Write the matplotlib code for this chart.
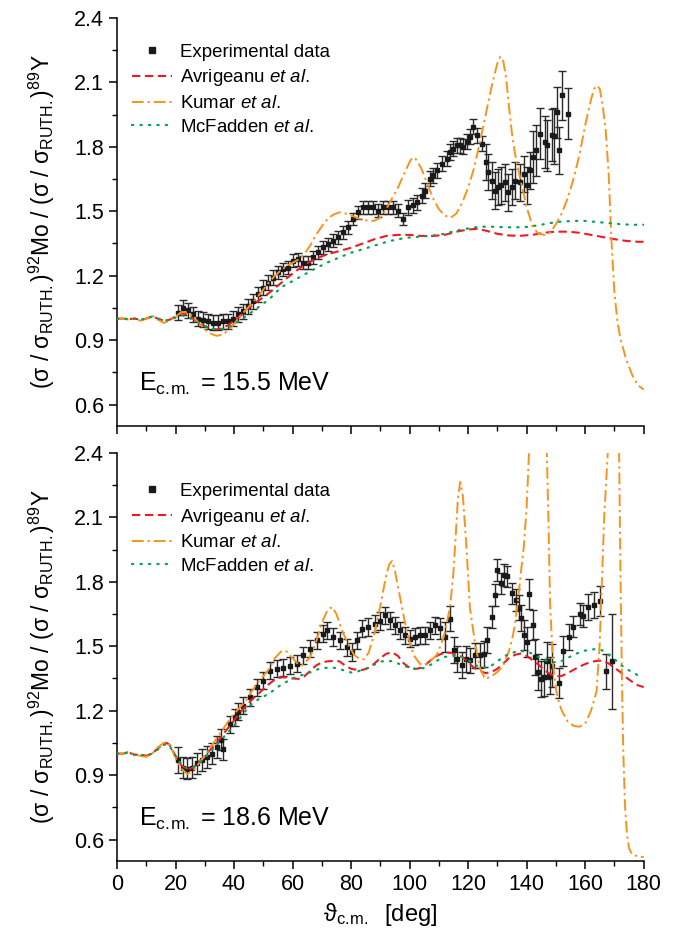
import numpy as np
import matplotlib
matplotlib.use('Agg')
import matplotlib.pyplot as plt
from matplotlib.ticker import MultipleLocator
from matplotlib.lines import Line2D

plt.rcParams['font.family'] = ['Liberation Sans', 'DejaVu Sans']
plt.rcParams['mathtext.fontset'] = 'custom'
plt.rcParams['mathtext.rm'] = 'Liberation Sans'
plt.rcParams['mathtext.it'] = 'Liberation Sans:italic'
plt.rcParams['mathtext.bf'] = 'Liberation Sans:bold'

# ---------------- E = 15.5 MeV (top) ----------------
top_exp_x = [21.0, 22.7, 24.4, 26.1, 27.8, 29.5, 31.2, 32.9, 34.6, 36.3, 38.1, 39.8, 41.5, 43.2, 44.9,
             46.6, 48.3, 50.0, 51.7, 53.4, 55.1, 56.8, 58.6, 60.3, 62.0, 63.7, 65.4, 67.1, 68.8, 70.5,
             72.2, 73.9, 75.6, 77.4, 79.1, 80.8, 82.5, 84.2, 85.9, 87.6, 89.3, 91.0, 92.7, 94.4, 96.1,
             97.8, 99.5, 101.2, 102.4, 104.1, 105.3, 107.0, 108.1, 109.3, 111.0, 112.7, 113.8, 114.9,
             116.1, 117.2, 118.3, 119.5, 120.6, 121.7, 122.9, 124.6, 126.1, 126.9, 128.0, 129.2, 130.3,
             131.4, 132.6, 133.7, 134.9, 136.0, 137.7, 139.1, 140.0, 141.1, 142.3, 143.2, 144.5, 146.1,
             146.8, 148.5, 149.5, 150.3, 151.1, 152.0, 154.0]
top_exp_y = [1.028, 1.05, 1.04, 1.02, 1.0, 0.995, 0.987, 0.98, 0.98, 0.987, 0.987, 1.0, 1.02, 1.035, 1.058,
             1.082, 1.113, 1.144, 1.168, 1.191, 1.215, 1.23, 1.238, 1.269, 1.277, 1.261, 1.261, 1.285, 1.308, 1.332,
             1.347, 1.363, 1.378, 1.402, 1.425, 1.464, 1.495, 1.519, 1.519, 1.519, 1.503, 1.519, 1.519, 1.519, 1.503,
             1.464, 1.519, 1.527, 1.542, 1.573, 1.596, 1.651, 1.667, 1.69, 1.721, 1.745, 1.776, 1.792,
             1.807, 1.807, 1.8, 1.823, 1.846, 1.893, 1.854, 1.815, 1.729, 1.682, 1.643, 1.596, 1.612,
             1.62, 1.635, 1.588, 1.612, 1.643, 1.635, 1.674, 1.62, 1.69, 1.752, 1.784, 1.862, 1.823,
             1.807, 1.854, 1.85, 1.96, 1.783, 2.04, 1.955]
top_exp_err = [0.035] * 20 + [0.03] * 26 + [0.035] * 20 + [0.085] * 14 + [0.12] * 6 + [0.13, 0.12, 0.11, 0.115, 0.12]

top_kumar_x = [0, 2, 4, 6, 8, 10, 12, 14, 16, 18, 20, 22, 24, 26, 28, 30, 32, 34, 36, 38, 40, 42, 44, 46, 48,
               50, 52, 54, 56, 58, 60, 62, 64, 66, 68, 70, 72, 74, 76, 78, 80, 82, 84, 86, 88, 90, 92, 94, 96,
               98, 100, 101, 102, 104, 106, 108, 110, 112, 114, 116, 118, 120, 122, 124, 126, 128, 130, 131,
               132, 133, 134, 135, 136, 138, 140, 142, 144, 146, 148, 150, 152, 154, 156, 158, 160, 162, 163,
               164, 165, 166, 167, 168, 169, 170, 171, 172, 174, 176, 178, 180]
top_kumar_y = [1.0, 1.0, 0.995, 1.0, 0.99, 1.0, 1.015, 0.995, 0.98, 0.99, 1.01, 1.03, 1.03, 1.01, 0.98, 0.95,
               0.93, 0.92, 0.925, 0.945, 0.975, 1.01, 1.04, 1.07, 1.10, 1.135, 1.17, 1.2, 1.225, 1.245, 1.26,
               1.275, 1.3, 1.34, 1.39, 1.43, 1.465, 1.485, 1.495, 1.49, 1.48, 1.47, 1.46, 1.456, 1.456, 1.47,
               1.51, 1.56, 1.61, 1.67, 1.73, 1.75, 1.745, 1.70, 1.63, 1.56, 1.51, 1.48, 1.47, 1.49, 1.54,
               1.61, 1.70, 1.82, 1.95, 2.08, 2.19, 2.22, 2.20, 2.12, 1.98, 1.86, 1.77, 1.64, 1.52, 1.43,
               1.395, 1.39, 1.40, 1.44, 1.49, 1.56, 1.65, 1.76, 1.90, 2.02, 2.07, 2.085, 2.07, 1.99, 1.88,
               1.68, 1.36, 1.12, 0.99, 0.91, 0.81, 0.74, 0.69, 0.67]

top_avrig_x = [0, 2, 4, 6, 8, 10, 12, 14, 16, 18, 20, 22, 24, 26, 28, 30, 32, 34, 36, 38, 40, 42, 44, 48, 52,
               56, 60, 64, 68, 72, 76, 80, 84, 88, 92, 96, 100, 104, 108, 112, 116, 120, 123, 126, 130, 134,
               138, 142, 146, 150, 154, 158, 162, 166, 170, 174, 178, 180]
top_avrig_y = [1.0, 1.0, 0.998, 1.0, 0.995, 1.0, 1.01, 1.0, 0.99, 0.995, 1.01, 1.025, 1.02, 1.0, 0.98, 0.965,
               0.955, 0.95, 0.955, 0.97, 0.99, 1.01, 1.04, 1.08, 1.12, 1.165, 1.21, 1.25, 1.28, 1.30, 1.315,
               1.33, 1.35, 1.37, 1.385, 1.39, 1.39, 1.385, 1.385, 1.39, 1.405, 1.415, 1.418, 1.41, 1.395,
               1.387, 1.386, 1.39, 1.40, 1.405, 1.405, 1.40, 1.39, 1.38, 1.37, 1.362, 1.358, 1.358]

top_mcf_x = [0, 2, 4, 6, 8, 10, 12, 14, 16, 18, 20, 22, 24, 26, 28, 30, 32, 34, 36, 38, 40, 44, 48, 52, 56,
             60, 64, 68, 72, 76, 80, 84, 88, 92, 96, 100, 104, 108, 112, 116, 120, 124, 128, 132, 136, 140,
             144, 148, 152, 156, 160, 164, 168, 172, 176, 180]
top_mcf_y = [1.0, 1.0, 0.998, 1.0, 0.995, 1.0, 1.01, 1.0, 0.99, 0.995, 1.005, 1.015, 1.01, 0.995, 0.98, 0.965,
             0.955, 0.95, 0.952, 0.96, 0.975, 1.01, 1.05, 1.09, 1.145, 1.175, 1.205, 1.235, 1.262, 1.285,
             1.307, 1.323, 1.34, 1.357, 1.37, 1.378, 1.382, 1.387, 1.395, 1.41, 1.42, 1.428, 1.428, 1.426,
             1.425, 1.427, 1.435, 1.445, 1.452, 1.455, 1.455, 1.45, 1.445, 1.44, 1.437, 1.437]

# ---------------- E = 18.6 MeV (bottom) ----------------
bot_exp_x = [21.0, 22.5, 23.8, 25.5, 27.2, 29.0, 30.8, 32.5, 34.2, 35.5, 36.3, 38.6, 40.3, 41.5, 43.2, 45.5,
             47.7, 50.0, 52.3, 54.6, 56.8, 59.1, 61.4, 63.7, 65.9, 68.2, 70.5, 71.6, 73.9, 76.2, 78.5, 80.2,
             81.9, 83.6, 85.9, 88.2, 89.9, 91.6, 93.3, 95.0, 96.7, 98.5, 100.1, 101.9, 103.6, 105.3, 107.0,
             108.7, 110.4, 112.1, 113.9, 115.0, 116.2, 117.9, 119.4, 120.7, 122.4, 124.1, 125.3, 126.4,
             128.1, 129.2, 129.8, 131.1, 132.3, 133.4, 134.9, 136.2, 137.4, 138.1, 139.1, 140.0, 140.9,
             142.0, 142.9, 144.0, 144.8, 146.0, 147.0, 147.9, 148.7, 151.2, 152.5, 154.5, 156.0, 158.1,
             159.1, 161.1, 163.0, 165.0, 167.0, 169.1]
bot_exp_y = [0.97, 0.935, 0.93, 0.935, 0.955, 0.97, 0.985, 1.0, 1.03, 1.065, 1.02, 1.137, 1.17, 1.195, 1.223,
             1.262, 1.309, 1.34, 1.387, 1.395, 1.40, 1.41, 1.418, 1.457, 1.488, 1.527, 1.558, 1.574, 1.543,
             1.527, 1.496, 1.473, 1.527, 1.582, 1.59, 1.605, 1.618, 1.645, 1.621, 1.598, 1.575, 1.551,
             1.536, 1.544, 1.551, 1.551, 1.575, 1.598, 1.583, 1.544, 1.629, 1.481, 1.442, 1.411, 1.442,
             1.434, 1.457, 1.457, 1.465, 1.528, 1.637, 1.738, 1.855, 1.793, 1.832, 1.825, 1.746, 1.715,
             1.68, 1.63, 1.551, 1.52, 1.745, 1.598, 1.45, 1.38, 1.347, 1.355, 1.433, 1.363, 1.41, 1.33,
             1.48, 1.543, 1.592, 1.651, 1.64, 1.682, 1.693, 1.71, 1.383, 1.43]
bot_exp_err = [0.06] + [0.05] * 10 + [0.04] * 37 + [0.05, 0.07] + [0.06] * 10 + [0.05] * 8 + [0.06, 0.06, 0.07,
               0.07, 0.07, 0.07] + [0.085] * 6 + [0.1, 0.07, 0.07, 0.06, 0.05, 0.05, 0.05, 0.06, 0.06, 0.07,
               0.08, 0.22]

bot_kumar_x = [0, 2, 4, 6, 8, 10, 12, 14, 16, 17, 18, 20, 22, 24, 26, 28, 30, 32, 34, 36, 38, 40, 42, 44,
               46, 48, 50, 52, 54, 56, 57, 58, 60, 62, 63, 64, 66, 68, 70, 72, 73.5, 75, 77, 79, 81, 83, 84.5,
               86, 88, 90, 92, 93, 94, 95, 96.7, 99, 101.3, 103.6, 105.3, 107, 109.3, 111.6, 113.8, 114.9,
               115.7, 116.5, 117.3, 118.2, 119.3, 120.6, 122.3, 124, 125.8, 128, 130, 132, 134, 135, 136,
               137, 138, 139, 140, 140.8, 141.5, 142.5, 143.8, 145, 146, 146.9, 147.5, 148, 149, 150, 151,
               152, 154, 156, 158, 160, 162, 163.9, 165, 165.6, 166.5, 167.7, 168.5, 169.6, 170.6, 171.6,
               172.0, 172.5, 173.0, 173.6, 174.3, 175.0, 176, 178, 180]
bot_kumar_y = [1.0, 1.0, 1.01, 0.995, 0.99, 0.985, 1.0, 1.03, 1.05, 1.055, 1.04, 0.98, 0.93, 0.905, 0.92,
               0.955, 0.99, 1.03, 1.07, 1.11, 1.15, 1.185, 1.215, 1.245, 1.29, 1.33, 1.36, 1.395, 1.445,
               1.475, 1.48, 1.475, 1.445, 1.415, 1.41, 1.42, 1.45, 1.52, 1.61, 1.67, 1.683, 1.65, 1.57,
               1.51, 1.46, 1.44, 1.44, 1.47, 1.56, 1.69, 1.83, 1.88, 1.897, 1.85, 1.73, 1.57, 1.46, 1.417,
               1.415, 1.43, 1.46, 1.54, 1.68, 1.83, 2.0, 2.19, 2.265, 2.2, 1.99, 1.68, 1.52, 1.40, 1.347,
               1.36, 1.38, 1.41, 1.48, 1.53, 1.60, 1.71, 1.84, 1.96, 2.15, 2.4, 2.75, 3.05, 3.2, 3.05,
               2.75, 2.4, 2.05, 1.70, 1.42, 1.30, 1.24, 1.20, 1.15, 1.13, 1.125, 1.14, 1.20, 1.29, 1.52,
               1.76, 2.10, 2.40, 2.75, 2.95, 2.75, 2.40, 1.90, 1.40, 1.02, 0.76, 0.62, 0.56, 0.53, 0.522,
               0.518]

bot_avrig_x = [0, 2, 4, 6, 8, 10, 12, 14, 16, 17, 18, 20, 22, 24, 26, 28, 30, 32, 34, 36, 38, 40, 42, 44,
               46, 48, 50, 52, 54, 56, 58, 60, 62, 64, 66, 68, 70, 72, 74, 76, 78, 80, 82, 84, 86, 88, 90,
               92, 94, 96, 98, 100, 102, 104, 106, 108, 110, 112, 114, 116, 118, 120, 122, 124, 126, 128,
               130, 132, 134, 136, 138, 140, 142, 144, 146, 148, 150, 152, 154, 156, 158, 160, 162, 164,
               166, 168, 170, 172, 174, 176, 178, 180]
bot_avrig_y = [1.0, 1.0, 1.005, 0.995, 0.995, 0.99, 1.0, 1.025, 1.045, 1.05, 1.04, 0.99, 0.945, 0.925,
               0.935, 0.96, 0.99, 1.02, 1.05, 1.085, 1.12, 1.155, 1.19, 1.22, 1.25, 1.275, 1.30, 1.325,
               1.345, 1.355, 1.355, 1.35, 1.348, 1.36, 1.385, 1.41, 1.425, 1.43, 1.432, 1.43, 1.41, 1.395,
               1.39, 1.39, 1.40, 1.42, 1.445, 1.465, 1.472, 1.455, 1.42, 1.40, 1.394, 1.40, 1.42, 1.445,
               1.46, 1.47, 1.47, 1.46, 1.45, 1.425, 1.40, 1.385, 1.375, 1.38, 1.395, 1.42, 1.445, 1.46,
               1.466, 1.455, 1.435, 1.415, 1.39, 1.37, 1.36, 1.362, 1.375, 1.39, 1.405, 1.417, 1.427,
               1.432, 1.433, 1.42, 1.40, 1.38, 1.355, 1.335, 1.318, 1.31]

bot_mcf_x = bot_avrig_x
bot_mcf_y = [1.0, 1.0, 1.005, 0.995, 0.995, 0.99, 1.0, 1.02, 1.04, 1.045, 1.035, 0.99, 0.95, 0.93, 0.935,
             0.955, 0.98, 1.01, 1.04, 1.07, 1.10, 1.13, 1.165, 1.20, 1.23, 1.25, 1.265, 1.28, 1.30, 1.32,
             1.335, 1.35, 1.36, 1.37, 1.378, 1.39, 1.398, 1.40, 1.40, 1.395, 1.385, 1.378, 1.382, 1.39,
             1.40, 1.415, 1.428, 1.433, 1.43, 1.42, 1.41, 1.40, 1.395, 1.395, 1.405, 1.42, 1.438, 1.45,
             1.455, 1.456, 1.45, 1.435, 1.415, 1.403, 1.40, 1.41, 1.43, 1.45, 1.465, 1.473, 1.478, 1.476,
             1.465, 1.45, 1.437, 1.428, 1.425, 1.432, 1.445, 1.46, 1.471, 1.48, 1.485, 1.487, 1.48, 1.46,
             1.44, 1.415, 1.395, 1.38, 1.365, 1.36]

energies = ['15.5', '18.6']

red = '#ED1C24'
orange = '#F7941D'
green = '#00A651'

fig = plt.figure(figsize=(6.85, 9.35), dpi=100)
ax1 = fig.add_axes([117 / 685, 1 - 426 / 935, 526.7 / 685, 408 / 935])
ax2 = fig.add_axes([117 / 685, 1 - 861 / 935, 526.7 / 685, 408 / 935])

panels = [
    (ax1, top_exp_x, top_exp_y, top_exp_err, top_avrig_x, top_avrig_y, top_kumar_x, top_kumar_y,
     top_mcf_x, top_mcf_y, energies[0], 0.937),
    (ax2, bot_exp_x, bot_exp_y, bot_exp_err, bot_avrig_x, bot_avrig_y, bot_kumar_x, bot_kumar_y,
     bot_mcf_x, bot_mcf_y, energies[1], 0.927),
]

sub = '$_{\\mathrm{c.\\!m.}}$'
ylab = '(σ / σ$_{\\mathrm{RUTH.}}$)$^{92}$Mo / (σ / σ$_{\\mathrm{RUTH.}}$)$^{89}$Y'

for ax, ex, ey, ee, ax_, ay_, kx, ky, mx, my, en, legy in panels:
    ax.errorbar(ex, ey, yerr=ee, fmt='s', ms=3.2, color='#1a1a1a', ecolor='#2a2a2a',
                elinewidth=1.0, capsize=3, capthick=1.0, zorder=2)
    ax.plot(ax_, ay_, color=red, lw=1.5, dashes=(4, 2.2), zorder=3)
    ax.plot(kx, ky, color=orange, lw=1.4, dashes=(6, 2, 1.2, 2), zorder=3)
    ax.plot(mx, my, color=green, lw=1.6, dashes=(0.6, 3.2), dash_capstyle='round', zorder=3)

    ax.set_xlim(0, 180)
    ax.set_ylim(0.5, 2.4)
    ax.xaxis.set_major_locator(MultipleLocator(20))
    ax.xaxis.set_minor_locator(MultipleLocator(10))
    ax.yaxis.set_minor_locator(MultipleLocator(0.15))
    ax.set_yticks([0.6, 0.9, 1.2, 1.5, 1.8, 2.1, 2.4])
    ax.set_yticklabels(['0.6', '0.9', '1.2', '1.5', '1.8', '2.1', '2.4'])
    ax.spines['top'].set_visible(False)
    ax.spines['right'].set_visible(False)
    for s in ['left', 'bottom']:
        ax.spines[s].set_linewidth(1.1)
    ax.tick_params(which='major', direction='out', length=6, width=1.1, labelsize=15.5)
    ax.tick_params(which='minor', direction='out', length=3.5, width=1.0)

    ax.set_ylabel(ylab, fontsize=16.5, va='center')
    ax.yaxis.set_label_coords(-0.143, 0.5)

    ax.text(7.5, 0.665, 'E' + sub + ' = ' + en + ' MeV', fontsize=18, va='baseline', ha='left')

    handles = [
        Line2D([], [], ls='none', marker='s', ms=5, color='#1a1a1a'),
        Line2D([], [], color=red, lw=1.5, dashes=(4, 2.2)),
        Line2D([], [], color=orange, lw=1.4, dashes=(6, 2, 1.2, 2)),
        Line2D([], [], color=green, lw=1.6, dashes=(0.6, 3.2), dash_capstyle='round'),
    ]
    labels = ['Experimental data', 'Avrigeanu $\\mathit{et\\ al.}$', 'Kumar $\\mathit{et\\ al.}$',
              'McFadden $\\mathit{et\\ al.}$']
    ax.legend(handles, labels, loc='upper left', bbox_to_anchor=(0.028, legy), frameon=False,
              fontsize=13.4, handlelength=2.15, handletextpad=0.45, labelspacing=0.36,
              borderaxespad=0, borderpad=0)

ax1.tick_params(labelbottom=False)
ax2.set_xlabel('$\\mathrm{\\vartheta}$' + sub + '  [deg]', fontsize=17, va='center')
ax2.xaxis.set_label_coords(0.5, -0.132)

fig.savefig('out.png', dpi=100)
